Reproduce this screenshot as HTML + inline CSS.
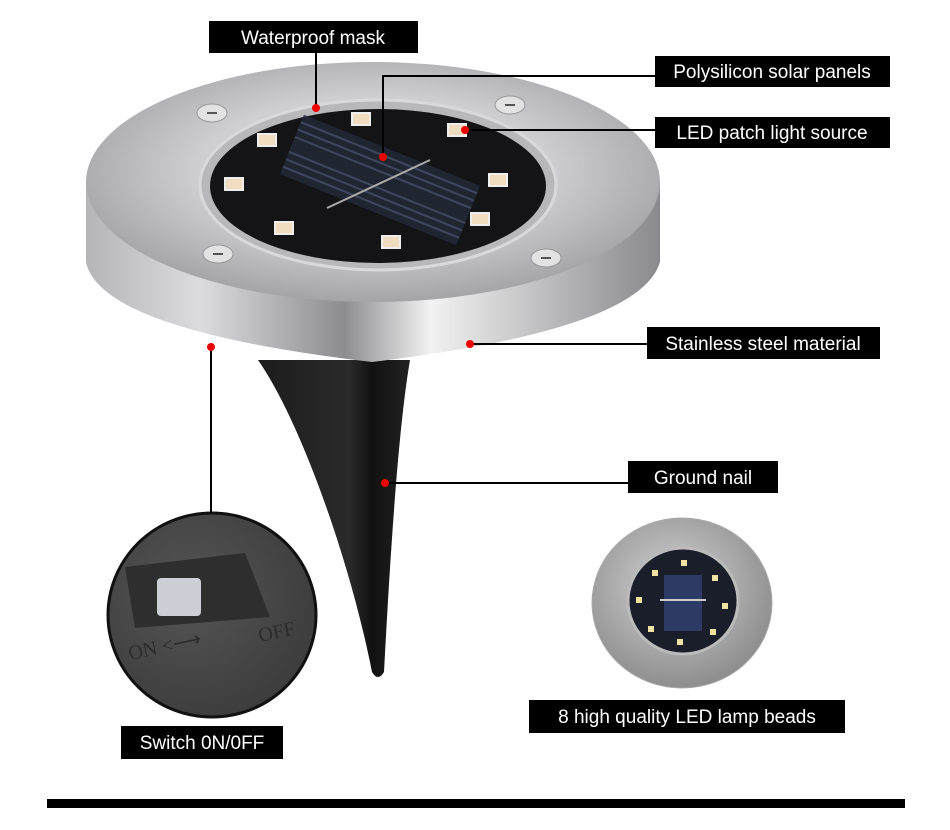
<!DOCTYPE html>
<html><head><meta charset="utf-8"><style>
html,body{margin:0;padding:0;background:#fff;}
svg{display:block}
text{font-family:"Liberation Sans",sans-serif;fill:#fff;font-size:19px}
</style></head><body>
<svg width="950" height="830" viewBox="0 0 950 830">
<defs>
<linearGradient id="side" x1="0" x2="1" y1="0" y2="0">
<stop offset="0" stop-color="#b5b5b7"/><stop offset=".2" stop-color="#dcdcde"/><stop offset=".45" stop-color="#8d8d90"/><stop offset=".6" stop-color="#f2f2f2"/><stop offset=".85" stop-color="#b0b0b2"/><stop offset="1" stop-color="#8a8a8c"/>
</linearGradient>
<radialGradient id="top" cx=".5" cy=".45" r=".6">
<stop offset=".5" stop-color="#cfcfd1"/><stop offset="1" stop-color="#9c9c9f"/>
</radialGradient>
<linearGradient id="spike" x1="0" x2="1">
<stop offset="0" stop-color="#1c1c1c"/><stop offset=".6" stop-color="#2a2a2a"/><stop offset=".75" stop-color="#111"/><stop offset="1" stop-color="#222"/>
</linearGradient>
<radialGradient id="sw" cx=".4" cy=".4" r=".7"><stop offset="0" stop-color="#555"/><stop offset="1" stop-color="#3a3a3a"/></radialGradient>
<radialGradient id="small" cx=".45" cy=".4" r=".6"><stop offset="0" stop-color="#d2d2d2"/><stop offset="1" stop-color="#8e8e8e"/></radialGradient>
</defs>

<path d="M258,360 C300,420 350,560 372,672 Q378,682 384,672 C390,560 398,430 410,360 Z" fill="url(#spike)"/>
<path d="M86,180 L86,262 Q100,330 372,362 Q640,330 660,262 L660,180 Z" fill="url(#side)"/>
<ellipse cx="373" cy="182" rx="287" ry="120" fill="url(#top)"/>
<ellipse cx="378" cy="185" rx="178" ry="85" fill="#b8b8ba" stroke="#d9d9d9" stroke-width="3"/>
<ellipse cx="378" cy="186" rx="168" ry="77" fill="#141416"/>
<!-- solar panel -->
<g transform="translate(380,180) rotate(22)" opacity=".8">
<rect x="-95" y="-32" width="190" height="64" fill="#232a3a"/>
<g stroke="#4a5470" stroke-width="2">
<line x1="-95" y1="-24" x2="95" y2="-24"/><line x1="-95" y1="-16" x2="95" y2="-16"/><line x1="-95" y1="-8" x2="95" y2="-8"/><line x1="-95" y1="8" x2="95" y2="8"/><line x1="-95" y1="16" x2="95" y2="16"/><line x1="-95" y1="24" x2="95" y2="24"/>
</g>
</g>
<line x1="327" y1="208" x2="430" y2="160" stroke="#aaa" stroke-width="2"/>
<g fill="#f1dcc0" stroke="#eee" stroke-width="2">
<rect x="352" y="113" width="18" height="12"/><rect x="448" y="124" width="18" height="12"/>
<rect x="489" y="174" width="18" height="12"/><rect x="471" y="213" width="18" height="12"/>
<rect x="382" y="236" width="18" height="12"/><rect x="275" y="222" width="18" height="12"/>
<rect x="225" y="178" width="18" height="12"/><rect x="258" y="134" width="18" height="12"/>
</g>
<g fill="#e2e2e2" stroke="#999"><ellipse cx="212" cy="113" rx="15" ry="9"/><ellipse cx="510" cy="105" rx="15" ry="9"/><ellipse cx="218" cy="254" rx="15" ry="9"/><ellipse cx="546" cy="258" rx="15" ry="9"/></g>
<g stroke="#555" stroke-width="2"><line x1="207" y1="113" x2="217" y2="113"/><line x1="505" y1="105" x2="515" y2="105"/><line x1="213" y1="254" x2="223" y2="254"/><line x1="541" y1="258" x2="551" y2="258"/></g>

<ellipse cx="212" cy="615" rx="104" ry="102" fill="url(#sw)" stroke="#111" stroke-width="3"/>
<path d="M125,567 L245,553 L270,617 L135,628 Z" fill="#2e2e2e"/>
<rect x="157" y="578" width="44" height="38" rx="4" fill="#ccd0d6"/>
<text x="130" y="660" transform="rotate(-12 130 660)" style="fill:#2c2c2c;font-family:'Liberation Serif',serif;font-size:20px">ON &lt;⟶</text>
<text x="260" y="642" transform="rotate(-12 260 642)" style="fill:#2c2c2c;font-family:'Liberation Serif',serif;font-size:20px">OFF</text>

<ellipse cx="682" cy="603" rx="90" ry="85" fill="url(#small)" stroke="#aaa"/>
<ellipse cx="683" cy="601" rx="55" ry="53" fill="#1a1d2a" stroke="#bbb" stroke-width="3"/>
<rect x="664" y="575" width="38" height="56" fill="#2d3a66"/>
<line x1="660" y1="600" x2="706" y2="600" stroke="#ccc" stroke-width="2"/>
<g fill="#f0e2a0"><rect x="681" y="560" width="6" height="6"/><rect x="652" y="570" width="6" height="6"/><rect x="712" y="575" width="6" height="6"/><rect x="636" y="597" width="6" height="6"/><rect x="722" y="603" width="6" height="6"/><rect x="648" y="626" width="6" height="6"/><rect x="710" y="629" width="6" height="6"/><rect x="677" y="639" width="6" height="6"/></g>

<g stroke="#000" stroke-width="2" fill="none">
<line x1="316" y1="53" x2="316" y2="108"/>
<polyline points="383,157 383,76 655,76"/>
<line x1="465" y1="130" x2="655" y2="130"/>
<line x1="470" y1="344" x2="647" y2="344"/>
<line x1="385" y1="483" x2="628" y2="483"/>
<line x1="211" y1="347" x2="211" y2="513"/>
</g>
<g fill="#e00"><circle cx="316" cy="108" r="4"/><circle cx="383" cy="157" r="4"/><circle cx="465" cy="130" r="4"/><circle cx="470" cy="344" r="4"/><circle cx="385" cy="483" r="4"/><circle cx="211" cy="347" r="4"/></g>

<rect x="209" y="21" width="209" height="32" fill="#000"/><text x="313" y="44" text-anchor="middle">Waterproof mask</text>
<rect x="655" y="56" width="235" height="31" fill="#000"/><text x="772" y="78" text-anchor="middle">Polysilicon solar panels</text>
<rect x="655" y="117" width="235" height="31" fill="#000"/><text x="772" y="139" text-anchor="middle">LED patch light source</text>
<rect x="647" y="327" width="233" height="32" fill="#000"/><text x="763" y="350" text-anchor="middle">Stainless steel material</text>
<rect x="628" y="461" width="150" height="32" fill="#000"/><text x="703" y="484" text-anchor="middle">Ground nail</text>
<rect x="529" y="700" width="316" height="33" fill="#000"/><text x="687" y="723" text-anchor="middle">8 high quality LED lamp beads</text>
<rect x="121" y="726" width="162" height="33" fill="#000"/><text x="202" y="749" text-anchor="middle">Switch 0N/0FF</text>

<rect x="47" y="799" width="858" height="9" fill="#000"/>
</svg>
</body></html>
